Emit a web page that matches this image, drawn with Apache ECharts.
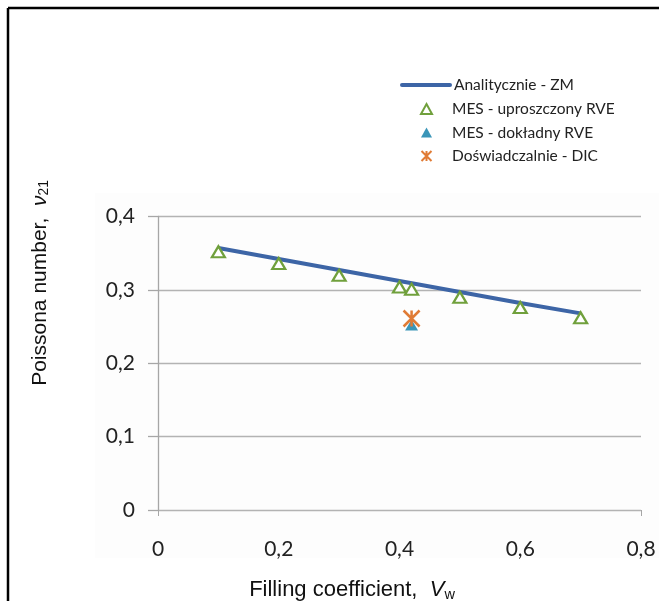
<!DOCTYPE html>
<html>
<head>
<meta charset="utf-8">
<script src="https://cdn.jsdelivr.net/npm/echarts@6/dist/echarts.min.js"></script>
<style>
  html, body { margin: 0; padding: 0; background: #fff; }
  #chart { width: 659px; height: 601px; }
</style>
</head>
<body>
<div id="chart"></div>
<script>
// Filling coefficient values (x) for the analytical curve and simplified-RVE FEM points
const analyticX = [0.1, 0.2, 0.3, 0.4, 0.5, 0.6, 0.7];
const analyticY = [0.357, 0.342, 0.327, 0.312, 0.297, 0.282, 0.268];

const mesSimpleX = [0.1, 0.2, 0.3, 0.4, 0.42, 0.5, 0.6, 0.7];
const mesSimpleY = [0.352, 0.336, 0.320, 0.304, 0.301, 0.290, 0.276, 0.262];

const mesExactX = [0.42];
const mesExactY = [0.252];

const dicX = [0.42];
const dicY = [0.261];

const xTicks = [0, 0.2, 0.4, 0.6, 0.8];
const yTicks = [0, 0.1, 0.2, 0.3, 0.4];

const seriesNames = [
  'Analitycznie - ZM',
  'MES - uproszczony RVE',
  'MES - dokładny RVE',
  'Doświadczalnie - DIC'
];

const zip = (xs, ys) => xs.map((x, i) => [x, ys[i]]);
const comma = v => String(+v.toFixed(2)).replace('.', ',');

const asterisk = 'path://M0,0L10,10M10,0L0,10M5,0L5,10';
const lineIcon = 'path://M2,0L50,0A2,2,0,0,1,50,4L2,4A2,2,0,0,1,2,0Z';
const labelFont = 'Lato, "Open Sans", sans-serif';
const titleFont = '"Liberation Sans", Arial, sans-serif';

const titleRich = size => ({
  n: { fontFamily: titleFont, fontSize: size, fill: '#111' },
  v: { fontFamily: titleFont, fontSize: size, fontStyle: 'italic', fill: '#111' },
  s: { fontFamily: titleFont, fontSize: size * 0.66, fill: '#111', padding: [9, 0, 0, 0] }
});

const legendText = pad => ({ fontFamily: labelFont, fontSize: 15.5, color: '#222', padding: [0, 0, 0, pad] });

const chart = echarts.init(document.getElementById('chart'), null, { renderer: 'canvas' });

chart.setOption({
  animation: false,
  backgroundColor: '#ffffff',
  graphic: [
    // faint chart-area backdrop
    { type: 'rect', z: -10, shape: { x: 95, y: 193, width: 564, height: 365 },
      style: { fill: '#fdfdfd' } },
    // frame lines at top and left
    { type: 'line', z: 10, shape: { x1: 8, y1: 8, x2: 659, y2: 8 },
      style: { stroke: '#000', lineWidth: 2.5 } },
    { type: 'line', z: 10, shape: { x1: 8, y1: 8, x2: 8, y2: 601 },
      style: { stroke: '#000', lineWidth: 2.5 } },
    // axis titles
    { type: 'text', x: 352, y: 578,
      style: { text: '{n|Filling coefficient,  }{v|V}{s|w}', align: 'center', rich: titleRich(22) } },
    { type: 'text', x: 40, y: 283, rotation: Math.PI / 2,
      style: { text: '{n|Poissona number,  }{v|ν}{s|21}', align: 'center', verticalAlign: 'middle', rich: titleRich(21) } }
  ],
  legend: [
    {
      // analytical curve entry with a long line sample
      orient: 'vertical', left: 395, top: 72,
      itemWidth: 52, itemHeight: 9,
      data: [{ name: seriesNames[0], icon: lineIcon }],
      textStyle: legendText(-3)
    },
    {
      // marker entries, icons centred under the line sample
      orient: 'vertical', left: 415, top: 96,
      itemWidth: 11, itemHeight: 10, itemGap: 7.5,
      data: [
        { name: seriesNames[1], icon: 'triangle' },
        { name: seriesNames[2], icon: 'triangle' },
        { name: seriesNames[3], icon: asterisk }
      ],
      textStyle: legendText(15)
    }
  ],
  grid: { left: 158, right: 18, top: 216.5, bottom: 91, containLabel: false },
  xAxis: {
    type: 'value', min: 0, max: 0.8, interval: 0.2,
    axisLine: { show: false },
    axisTick: { show: true, customValues: [0, 0.8], length: 6, lineStyle: { color: '#a6a6a6' } },
    splitLine: { show: false },
    axisLabel: {
      margin: 29, fontFamily: labelFont, fontSize: 21, color: '#222',
      formatter: v => xTicks.includes(+v.toFixed(2)) ? comma(v) : ''
    }
  },
  yAxis: {
    type: 'value', min: 0, max: 0.4, interval: 0.1,
    axisLine: { show: true, lineStyle: { color: '#a6a6a6', width: 1.3 } },
    axisTick: { show: true, length: 10, lineStyle: { color: '#a6a6a6', width: 1.3 } },
    splitLine: { show: true, lineStyle: { color: '#b3b3b3', width: 1.3 } },
    axisLabel: {
      margin: 23, fontFamily: labelFont, fontSize: 21, color: '#222',
      formatter: v => yTicks.includes(+v.toFixed(2)) ? comma(v) : ''
    }
  },
  series: [
    {
      name: seriesNames[0], type: 'line', data: zip(analyticX, analyticY),
      symbol: 'none', z: 2,
      lineStyle: { color: '#3d65a6', width: 4 },
      itemStyle: { color: '#3d65a6' }
    },
    {
      name: seriesNames[1], type: 'scatter', data: zip(mesSimpleX, mesSimpleY),
      symbol: 'triangle', symbolSize: [13, 11], z: 3,
      itemStyle: { color: '#ffffff', borderColor: '#70a03c', borderWidth: 2.2, opacity: 1 }
    },
    {
      name: seriesNames[2], type: 'scatter', data: zip(mesExactX, mesExactY),
      symbol: 'triangle', symbolSize: [13, 11], z: 4,
      itemStyle: { color: '#3a95b8', opacity: 1 }
    },
    {
      name: seriesNames[3], type: 'scatter', data: zip(dicX, dicY),
      symbol: asterisk, symbolSize: [16, 16], z: 5,
      itemStyle: { color: 'rgba(0,0,0,0)', borderColor: '#e07b35', borderWidth: 2.5, opacity: 1 }
    }
  ]
});
</script>
</body>
</html>
